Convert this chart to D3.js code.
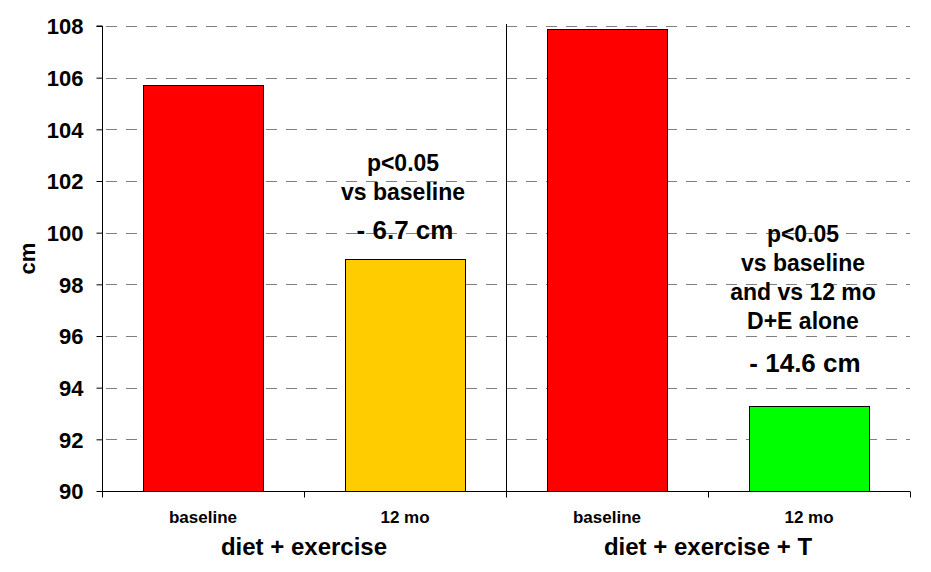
<!DOCTYPE html>
<html><head><meta charset="utf-8">
<script src="https://cdn.jsdelivr.net/npm/d3@7"></script>
<style>body{margin:0;background:#fff}svg{display:block}text{font-family:"Liberation Sans",Arial,sans-serif;font-weight:bold;fill:#000}</style>
</head><body>
<script>
const categories = ["baseline", "12 mo", "baseline", "12 mo"];
const groups = ["diet + exercise", "diet + exercise + T"];
const values = [105.7, 99.0, 107.9, 93.3];
const colors = ["#ff0000", "#ffcc00", "#ff0000", "#00ff00"];
const yTicks = [90, 92, 94, 96, 98, 100, 102, 104, 106, 108];
const annoLeft = ["p<0.05", "vs baseline"];
const annoLeftChange = "- 6.7 cm";
const annoRight = ["p<0.05", "vs baseline", "and vs 12 mo", "D+E alone"];
const annoRightChange = "- 14.6 cm";

const W = 931, H = 572;
const m = {left: 102, right: 21, top: 26, bottom: 81};
const svg = d3.select("body").append("svg").attr("width", W).attr("height", H);

const x = d3.scaleBand().domain(d3.range(categories.length)).range([m.left, W - m.right]).paddingInner(0.405).paddingOuter(0.2025);
const xb = d3.scaleLinear().domain([0, categories.length]).range([m.left, W - m.right]);
const y = d3.scaleLinear().domain([90, 108]).range([H - m.bottom, m.top]);

// gridlines
svg.append("g").selectAll("line").data(yTicks.filter(d => d > 90)).join("line")
  .attr("x1", m.left + 4).attr("x2", W - m.right)
  .attr("y1", d => Math.round(y(d)) + 0.5).attr("y2", d => Math.round(y(d)) + 0.5)
  .attr("stroke", "#808080").attr("stroke-width", 1).attr("stroke-dasharray", "11,9");

// divider
svg.append("line").attr("x1", Math.round(xb(2)) + 0.5).attr("x2", Math.round(xb(2)) + 0.5)
  .attr("y1", m.top - 2).attr("y2", y(90)).attr("stroke", "#000");

// bars
svg.append("g").selectAll("rect").data(values).join("rect")
  .attr("x", (d, i) => Math.round(x(i)) + 0.5)
  .attr("width", Math.round(x.bandwidth()))
  .attr("y", d => Math.round(y(d)) + 0.5)
  .attr("height", d => Math.round(y(90)) - Math.round(y(d)))
  .attr("fill", (d, i) => colors[i]).attr("stroke", "#000").attr("stroke-width", 1);

// y axis
const ya = svg.append("g").attr("transform", `translate(${m.left + 0.5},0)`)
  .call(d3.axisLeft(y).tickValues(yTicks).tickSize(6).tickPadding(13).tickFormat(d3.format("d")));
ya.select(".domain").attr("stroke", "#000").attr("d", `M-6,${y(108)}H0V${y(90)}`);
ya.selectAll(".tick line").attr("stroke", "#000");
ya.selectAll(".tick text").style("font-size", "22px").attr("dy", "0.36em");

// x axis
const xa = svg.append("g").attr("transform", `translate(0,${Math.round(y(90)) + 0.5})`);
xa.append("line").attr("x1", m.left).attr("x2", W - m.right).attr("stroke", "#000");
xa.selectAll(".tk").data(d3.range(categories.length + 1)).join("line")
  .attr("x1", d => Math.round(xb(d)) + 0.5).attr("x2", d => Math.round(xb(d)) + 0.5)
  .attr("y1", 0).attr("y2", 6).attr("stroke", "#000");
xa.selectAll(".cat").data(categories).join("text")
  .attr("x", (d, i) => x(i) + x.bandwidth() / 2).attr("y", 31)
  .attr("text-anchor", "middle").style("font-size", "17px").text(d => d);
xa.selectAll(".grp").data(groups).join("text")
  .attr("x", (d, i) => xb(i * 2 + 1)).attr("y", 63)
  .attr("text-anchor", "middle").style("font-size", "24px").text(d => d);

// y label
svg.append("text").attr("transform", `translate(35,${(y(90) + y(108)) / 2}) rotate(-90)`)
  .attr("text-anchor", "middle").style("font-size", "22px").text("cm");

// annotations
function anno(lines, change, idx, topVal, dx, changeGap) {
  const cx = x(idx) + x.bandwidth() / 2 + dx;
  const g = svg.append("g");
  lines.forEach((t, i) => {
    g.append("text").attr("x", cx).attr("y", y(topVal) + i * 29)
      .attr("text-anchor", "middle").style("font-size", "23px").text(t);
  });
  g.append("text").attr("x", cx + 2).attr("y", y(topVal) + (lines.length - 1) * 29 + changeGap)
    .attr("text-anchor", "middle").style("font-size", "26px").text(change);
}
anno(annoLeft, annoLeftChange, 1, 102.4, -2, 39);
anno(annoRight, annoRightChange, 3, 99.65, -6, 43);
</script>
</body></html>
